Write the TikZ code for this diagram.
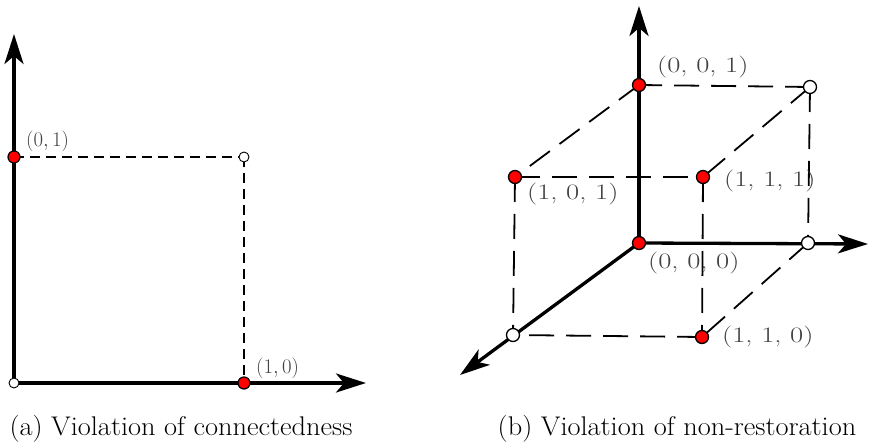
\documentclass[tikz,border=0pt]{standalone}
\usetikzlibrary{arrows.meta}
\definecolor{lblgray}{HTML}{404040}
\begin{document}
\begin{tikzpicture}[x=1pt,y=-1pt,
  axisline/.style={line width=3.3pt,-{Stealth[length=30pt,width=19pt,inset=8pt]}},
  dashA/.style={line width=1.4pt,dash pattern=on 10pt off 6pt},
  dashB/.style={line width=1.8pt,dash pattern=on 25pt off 12pt},
  redpt/.style={circle,draw=black,fill=red,line width=1.2pt,minimum size=12pt,inner sep=0pt},
  redptB/.style={circle,draw=black,fill=red,line width=1.3pt,minimum size=13pt,inner sep=0pt},
  openpt/.style={circle,draw=black,fill=white,line width=1.3pt,minimum size=13pt,inner sep=0pt},
  openptsmall/.style={circle,draw=black,fill=white,line width=0.9pt,minimum size=10pt,inner sep=0pt},
  lblA/.style={text=lblgray,inner sep=0pt,anchor=base west,font=\fontsize{20}{24}\selectfont},
  lblB/.style={text=lblgray,inner sep=0pt,anchor=base west,font=\fontsize{22}{26}\selectfont},
  capt/.style={inner sep=0pt,anchor=base,font=\fontsize{27}{31}\selectfont}]
\useasboundingbox (0,0) rectangle (877,446);

% ---------- left panel ----------
\coordinate (A0) at (14,383);
\coordinate (A01) at (14,157);
\coordinate (A11) at (244,157);
\coordinate (A10) at (244,383);
\coordinate (AY) at (14,34);
\coordinate (AX) at (366,383);

\draw[dashA] (A01) -- (A11);
\draw[dashA] (A11) -- (A10);
\draw[axisline] (A0) -- (AY);
\draw[axisline] (A0) -- (AX);

\node[openptsmall] (a0) at (A0) {};
\node[redpt] (a01) at (A01) {};
\node[openptsmall] (a11) at (A11) {};
\node[redpt] (a10) at (A10) {};

\node[lblA] (l01) at (26,147) {$(0,1)$};
\node[lblA] (l10) at (256,373) {$(1,0)$};

% ---------- right panel ----------
\coordinate (B000) at (639,243);
\coordinate (B001) at (639,85);
\coordinate (B011) at (810,87);
\coordinate (B101) at (515,177);
\coordinate (B111) at (703,177);
\coordinate (B110) at (702,337);
\coordinate (B010) at (808,243);
\coordinate (B100) at (513,335);
\coordinate (BZ) at (639,6);
\coordinate (BY) at (868,244);
\coordinate (BX) at (460,375);

\draw[dashB] (B011) -- (B001);
\draw[dashB] (B001) -- (B101);
\draw[dashB] (B011) -- (B111);
\draw[dashB] (B101) -- (B111);
\draw[dashB] (B101) -- (B100);
\draw[dashB] (B111) -- (B110);
\draw[dashB] (B011) -- (B010);
\draw[dashB] (B010) -- (B110);
\draw[dashB] (B110) -- (B100);

\draw[axisline] (B000) -- (BZ);
\draw[axisline] (B000) -- (BY);
\draw[axisline] (B000) -- (BX);

\node[redptB] (b000) at (B000) {};
\node[redptB] (b001) at (B001) {};
\node[openpt] (b011) at (B011) {};
\node[redptB] (b101) at (B101) {};
\node[redptB] (b111) at (B111) {};
\node[redptB] (b110) at (B110) {};
\node[openpt] (b010) at (B010) {};
\node[openpt] (b100) at (B100) {};

\node[lblB] (l001) at (657,73) {\scalebox{1.3}[1]{(0,\ 0,\ 1)}};
\node[lblB] (l101) at (527,200) {\scalebox{1.3}[1]{(1,\ 0,\ 1)}};
\node[lblB] (l111) at (724,187) {\scalebox{1.3}[1]{(1,\ 1,\ 1)}};
\node[lblB] (l000) at (648,268) {\scalebox{1.3}[1]{(0,\ 0,\ 0)}};
\node[lblB] (l110) at (722,342) {\scalebox{1.3}[1]{(1,\ 1,\ 0)}};

% ---------- captions ----------
\node[capt] (capa) at (181,435) {\scalebox{1.05}[1]{(a) Violation of connectedness}};
\node[capt] (capb) at (677,435) {\scalebox{1.05}[1]{(b) Violation of non-restoration}};
\end{tikzpicture}
\end{document}
